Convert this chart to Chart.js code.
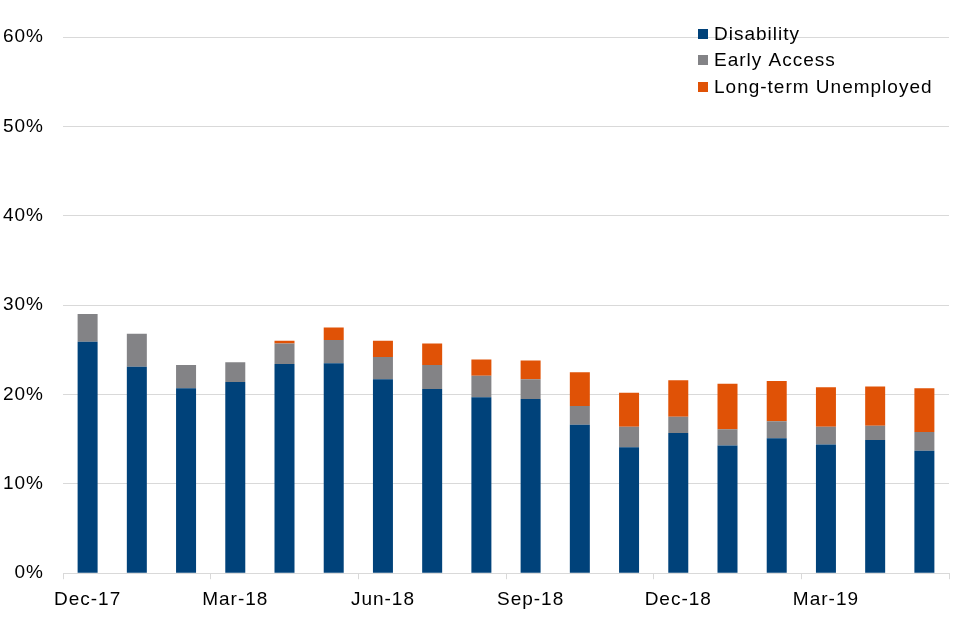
<!DOCTYPE html>
<html>
<head>
<meta charset="utf-8">
<script src="https://cdn.jsdelivr.net/npm/chart.js@4"></script>
<style>
html,body{margin:0;padding:0;background:#fff;}
#wrap{width:960px;height:640px;position:relative;}
</style>
</head>
<body>
<div id="wrap"><canvas id="c" width="960" height="640"></canvas></div>
<script>
const categories = ['Dec-17','Jan-18','Feb-18','Mar-18','Apr-18','May-18','Jun-18','Jul-18','Aug-18','Sep-18','Oct-18','Nov-18','Dec-18','Jan-19','Feb-19','Mar-19','Apr-19','May-19'];
const seriesNames = ['Disability','Early Access','Long-term Unemployed'];
const disability = [25.9,23.1,20.7,21.4,23.4,23.5,21.7,20.6,19.7,19.5,16.6,14.1,15.7,14.3,15.1,14.4,14.9,13.7];
const earlyAccess = [3.1,3.7,2.6,2.2,2.3,2.6,2.5,2.7,2.4,2.2,2.1,2.3,1.8,1.8,1.9,2.0,1.6,2.1];
const longTermUnemployed = [0,0,0,0,0.3,1.4,1.8,2.4,1.8,2.1,3.8,3.8,4.1,5.1,4.5,4.4,4.4,4.9];
const yTicks = [0,10,20,30,40,50,60];

const colors = ['#00427A','#838386','#E05206'];
const FONT = '"Liberation Sans", Arial, sans-serif';

const spacingPlugin = {
  id: 'letterSpacing',
  beforeDraw(chart) { if ('letterSpacing' in chart.ctx) chart.ctx.letterSpacing = '1px'; }
};

const legendPlugin = {
  id: 'insideLegend',
  afterDraw(chart) {
    const ctx = chart.ctx;
    ctx.save();
    if ('letterSpacing' in ctx) ctx.letterSpacing = '1px';
    ctx.font = '19px ' + FONT;
    ctx.textBaseline = 'middle';
    ctx.textAlign = 'left';
    const ys = [34, 60, 87];
    chart.data.datasets.forEach((ds, i) => {
      ctx.fillStyle = ds.backgroundColor;
      ctx.fillRect(698, ys[i] - 5, 10, 10);
      ctx.fillStyle = '#000';
      ctx.fillText(ds.label, 714, ys[i] + 1);
    });
    ctx.restore();
  }
};

new Chart(document.getElementById('c'), {
  type: 'bar',
  data: {
    labels: categories,
    datasets: [
      {label: seriesNames[0], data: disability, backgroundColor: colors[0]},
      {label: seriesNames[1], data: earlyAccess, backgroundColor: colors[1]},
      {label: seriesNames[2], data: longTermUnemployed, backgroundColor: colors[2]}
    ]
  },
  options: {
    responsive: false,
    animation: false,
    devicePixelRatio: 1,
    layout: {padding: {top: 37, right: 11, bottom: 20, left: 0}},
    datasets: {bar: {barThickness: 20, inflateAmount: 0}},
    plugins: {legend: {display: false}, tooltip: {enabled: false}},
    scales: {
      x: {
        stacked: true,
        border: {display: true, color: '#d9d9d9', width: 1},
        grid: {
          offset: true,
          drawOnChartArea: false,
          drawTicks: true,
          tickLength: 6,
          color: (ctx) => (ctx.index === undefined || ctx.index % 3 === 0) ? '#d9d9d9' : 'rgba(0,0,0,0)'
        },
        ticks: {
          autoSkip: false,
          maxRotation: 0,
          padding: 9,
          color: '#000',
          font: {family: FONT, size: 19},
          callback: function(v, i) { return i % 3 === 0 ? this.getLabelForValue(v) : ''; }
        }
      },
      y: {
        stacked: true,
        min: yTicks[0],
        max: yTicks[yTicks.length - 1],
        afterBuildTicks: (scale) => { scale.ticks = yTicks.map(v => ({value: v})); },
        afterFit: (scale) => { scale.width = 63; },
        border: {display: false},
        grid: {color: '#d9d9d9', drawTicks: false, lineWidth: 1},
        ticks: {
          padding: 19,
          color: '#000',
          font: {family: FONT, size: 19},
          callback: (v) => v + '%'
        }
      }
    }
  },
  plugins: [spacingPlugin, legendPlugin]
});
</script>
</body>
</html>
